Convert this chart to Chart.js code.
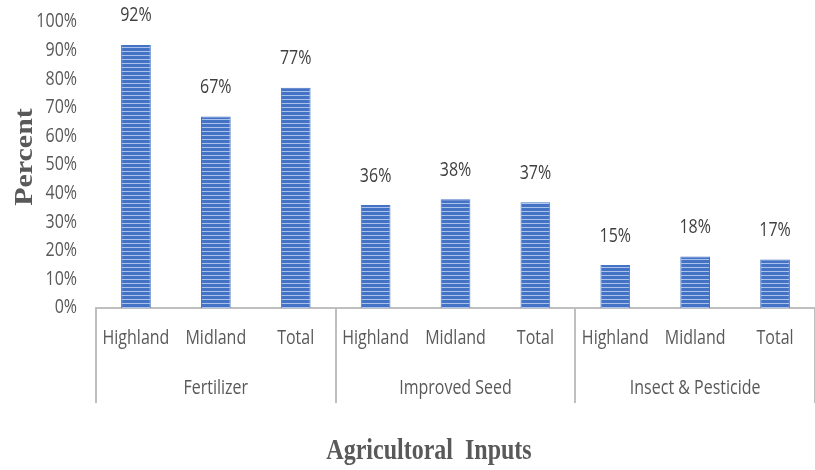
<!DOCTYPE html>
<html>
<head>
<meta charset="utf-8">
<script src="https://cdn.jsdelivr.net/npm/chart.js@4.4.0/dist/chart.umd.min.js"></script>
<style>
  html, body { margin: 0; padding: 0; background: #fff; }
  #wrap { width: 815px; height: 470px; position: relative; }
</style>
</head>
<body>
<div id="wrap"><canvas id="chart"></canvas></div>
<script>
// ====== data ======
const groups  = ["Fertilizer", "Improved Seed", "Insect & Pesticide"];
const regions = ["Highland", "Midland", "Total"];
const fertilizer      = [92, 67, 77];
const improvedSeed    = [36, 38, 37];
const insectPesticide = [15, 18, 17];
const yTicks = [0, 10, 20, 30, 40, 50, 60, 70, 80, 90, 100];
const yTitle = "Percent";
const xTitle = "Agricultoral  Inputs";

const labels = groups.flatMap(() => regions);
const values = [...fertilizer, ...improvedSeed, ...insectPesticide];

const AXIS_GREY = "#bfbfbf";
const TEXT_GREY = "#595959";
const SANS = "16px 'Open Sans'";
const STRETCH = 1.2; // the original text is a little taller than wide

// striped fill like the original
function stripes() {
  const c = document.createElement("canvas");
  c.width = 4; c.height = 4;
  const g = c.getContext("2d");
  g.fillStyle = "#4472c4"; g.fillRect(0, 0, 4, 4);
  g.fillStyle = "#a9c1eb"; g.fillRect(0, 3, 4, 1);
  return g.createPattern(c, "repeat");
}

function tallText(ctx, text, x, y, align) {
  ctx.save();
  ctx.translate(x, y);
  ctx.scale(1, STRETCH);
  ctx.textAlign = align || "center";
  ctx.textBaseline = "middle";
  ctx.fillText(text, 0, 0);
  ctx.restore();
}

const extras = {
  id: "extras",
  afterDraw(chart) {
    const { ctx, chartArea, scales: { x, y } } = chart;
    const step = x.getPixelForValue(1) - x.getPixelForValue(0);
    ctx.save();

    // group separators below the axis
    ctx.strokeStyle = AXIS_GREY; ctx.lineWidth = 2;
    for (let g = 0; g <= groups.length; g++) {
      const px = Math.round(x.getPixelForValue(g * 3) - step / 2);
      ctx.beginPath();
      ctx.moveTo(px, chartArea.bottom);
      ctx.lineTo(px, chartArea.bottom + 95);
      ctx.stroke();
    }

    ctx.font = SANS;
    ctx.fillStyle = TEXT_GREY;

    // y tick labels
    yTicks.forEach(v => tallText(ctx, v + "%", chartArea.left - 19, y.getPixelForValue(v), "right"));

    // category + group names
    labels.forEach((name, i) => tallText(ctx, name, x.getPixelForValue(i), chartArea.bottom + 31));
    groups.forEach((name, g) => tallText(ctx, name, x.getPixelForValue(g * 3 + 1), chartArea.bottom + 81));

    // value labels
    ctx.fillStyle = "#404040";
    chart.getDatasetMeta(0).data.forEach((bar, i) => {
      tallText(ctx, values[i] + "%", bar.x, bar.y - 29);
    });

    // axis titles (serif, bold, a bit stretched)
    ctx.fillStyle = TEXT_GREY;
    ctx.font = "bold 25px 'Liberation Serif'";
    ctx.textAlign = "center"; ctx.textBaseline = "middle";
    ctx.save();
    ctx.translate(26, 157);
    ctx.rotate(-Math.PI / 2);
    ctx.scale(1.2, 1);
    ctx.fillText(yTitle, 0, 0);
    ctx.restore();

    ctx.save();
    ctx.translate(429, 452);
    ctx.scale(1, 1.2);
    ctx.font = "bold 24px 'Liberation Serif'";
    ctx.fillText(xTitle, 0, 0);
    ctx.restore();

    ctx.restore();
  }
};

new Chart(document.getElementById("chart"), {
  type: "bar",
  data: {
    labels,
    datasets: [{
      data: values,
      backgroundColor: stripes(),
      borderColor: "#4472c4",
      borderWidth: 1,
      barPercentage: 0.372,
      categoryPercentage: 1
    }]
  },
  options: {
    responsive: true, maintainAspectRatio: false, animation: false,
    layout: { padding: { top: 22, right: -6, bottom: 0, left: 0 } },
    plugins: { legend: { display: false }, tooltip: { enabled: false } },
    scales: {
      x: {
        grid: { display: false, drawTicks: false },
        border: { display: true, color: AXIS_GREY, width: 2 },
        ticks: { display: false },
        afterFit: s => { s.height = 162; }
      },
      y: {
        min: 0, max: 100,
        grid: { display: false, drawTicks: false },
        border: { display: false },
        afterBuildTicks: s => { s.ticks = yTicks.map(v => ({ value: v })); },
        ticks: { display: false },
        afterFit: s => { s.width = 96; }
      }
    }
  },
  plugins: [extras]
});
</script>
</body>
</html>
